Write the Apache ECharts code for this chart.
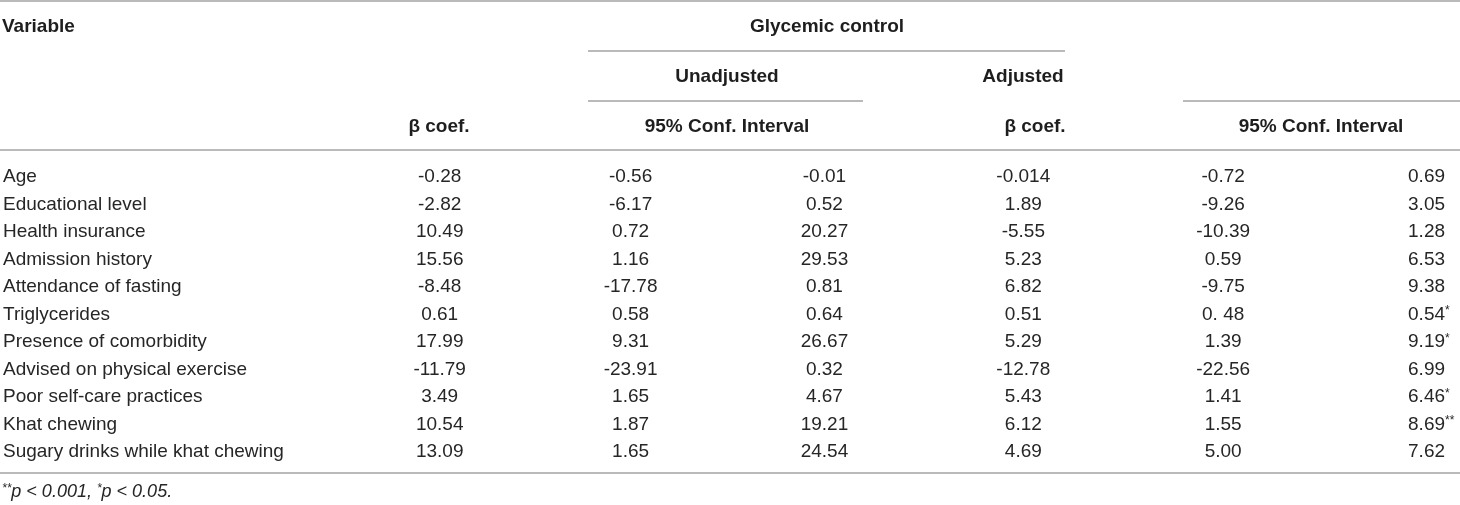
<!DOCTYPE html>
<html>
<head>
<meta charset="utf-8">
<script src="https://cdn.jsdelivr.net/npm/echarts@6/dist/echarts.min.js"></script>
<style>
  html, body { margin: 0; padding: 0; background: #fff; }
  #main { width: 1460px; height: 505px; }
</style>
</head>
<body>
<div id="main"></div>
<script>
// table rows and columns
var rows = ['Age', 'Educational level', 'Health insurance', 'Admission history',
    'Attendance of fasting', 'Triglycerides', 'Presence of comorbidity',
    'Advised on physical exercise', 'Poor self-care practices', 'Khat chewing',
    'Sugary drinks while khat chewing'];
var betaUnadj = ['-0.28', '-2.82', '10.49', '15.56', '-8.48', '0.61', '17.99', '-11.79', '3.49', '10.54', '13.09'];
var ciUnadjLow = ['-0.56', '-6.17', '0.72', '1.16', '-17.78', '0.58', '9.31', '-23.91', '1.65', '1.87', '1.65'];
var ciUnadjHigh = ['-0.01', '0.52', '20.27', '29.53', '0.81', '0.64', '26.67', '0.32', '4.67', '19.21', '24.54'];
var betaAdj = ['-0.014', '1.89', '-5.55', '5.23', '6.82', '0.51', '5.29', '-12.78', '5.43', '6.12', '4.69'];
var ciAdjLow = ['-0.72', '-9.26', '-10.39', '0.59', '-9.75', '0. 48', '1.39', '-22.56', '1.41', '1.55', '5.00'];
var ciAdjHigh = ['0.69', '3.05', '1.28', '6.53', '9.38', '0.54*', '9.19*', '6.99', '6.46*', '8.69**', '7.62'];

var FONT = '"Liberation Sans", Arial, sans-serif';
var TXT = '#262626';
var HEAD = '#1e1e1e';
var RULE = '#a3a3a3';

// column anchors (layout)
var cols = [
    { x: 439, align: 'center', vals: betaUnadj },
    { x: 630, align: 'center', vals: ciUnadjLow },
    { x: 824, align: 'center', vals: ciUnadjHigh },
    { x: 1023, align: 'center', vals: betaAdj },
    { x: 1223, align: 'center', vals: ciAdjLow },
    { x: 1408, align: 'left', vals: ciAdjHigh }
];

function star(s) {
    return s.replace(/(\*+)/, '{s|$1}');
}

var myChart = echarts.init(document.getElementById('main'));

var series = cols.map(function (c) {
    return {
        type: 'scatter',
        symbolSize: 1,
        itemStyle: { color: 'rgba(0,0,0,0)', opacity: 1 },
        silent: true,
        data: c.vals.map(function (v, i) { return [c.x, i]; }),
        label: {
            show: true,
            position: 'inside',
            align: c.align,
            verticalAlign: 'middle',
            fontFamily: FONT,
            fontSize: 19,
            color: TXT,
            formatter: function (p) { return star(c.vals[p.dataIndex]); },
            rich: {
                s: { fontFamily: FONT, fontSize: 12, color: TXT, verticalAlign: 'top' }
            }
        }
    };
});

function txt(text, x, y, align, bold) {
    return {
        type: 'text',
        style: {
            text: text, x: x, y: y, align: align, verticalAlign: 'middle',
            fontFamily: FONT, fontSize: 19, fontWeight: bold ? 'bold' : 'normal',
            fill: bold ? HEAD : TXT
        }
    };
}
function rule(x1, x2, y) {
    return {
        type: 'line',
        shape: { x1: x1, y1: y, x2: x2, y2: y },
        style: { stroke: RULE, lineWidth: 1.6 }
    };
}

var option = {
    animation: false,
    grid: { left: 0, right: 0, top: 163.25, bottom: 39.25 },
    xAxis: { type: 'value', min: 0, max: 1460, show: false },
    yAxis: {
        type: 'category',
        data: rows,
        inverse: true,
        axisLine: { show: false },
        axisTick: { show: false },
        splitLine: { show: false },
        axisLabel: {
            inside: true,
            margin: 2,
            align: 'left',
            fontFamily: FONT,
            fontSize: 19,
            color: TXT
        }
    },
    graphic: [
        rule(0, 1460, 1),
        txt('Variable', 2, 27, 'left', true),
        txt('Glycemic control', 827, 27, 'center', true),
        rule(588, 1065, 51),
        txt('Unadjusted', 727, 77, 'center', true),
        txt('Adjusted', 1023, 77, 'center', true),
        rule(588, 863, 101),
        rule(1183, 1460, 101),
        txt('β coef.', 439, 127, 'center', true),
        txt('95% Conf. Interval', 727, 127, 'center', true),
        txt('β coef.', 1035, 127, 'center', true),
        txt('95% Conf. Interval', 1321, 127, 'center', true),
        rule(0, 1460, 150),
        rule(0, 1460, 473),
        {
            type: 'text',
            style: {
                text: '{s|**}p < 0.001, {s|*}p < 0.05.',
                x: 2, y: 492, verticalAlign: 'middle',
                fontFamily: FONT, fontSize: 18, fontStyle: 'italic', fill: TXT,
                rich: { s: { fontFamily: FONT, fontSize: 12, fontStyle: 'italic', fill: TXT, verticalAlign: 'top' } }
            }
        }
    ],
    series: series
};

myChart.setOption(option);
</script>
</body>
</html>
